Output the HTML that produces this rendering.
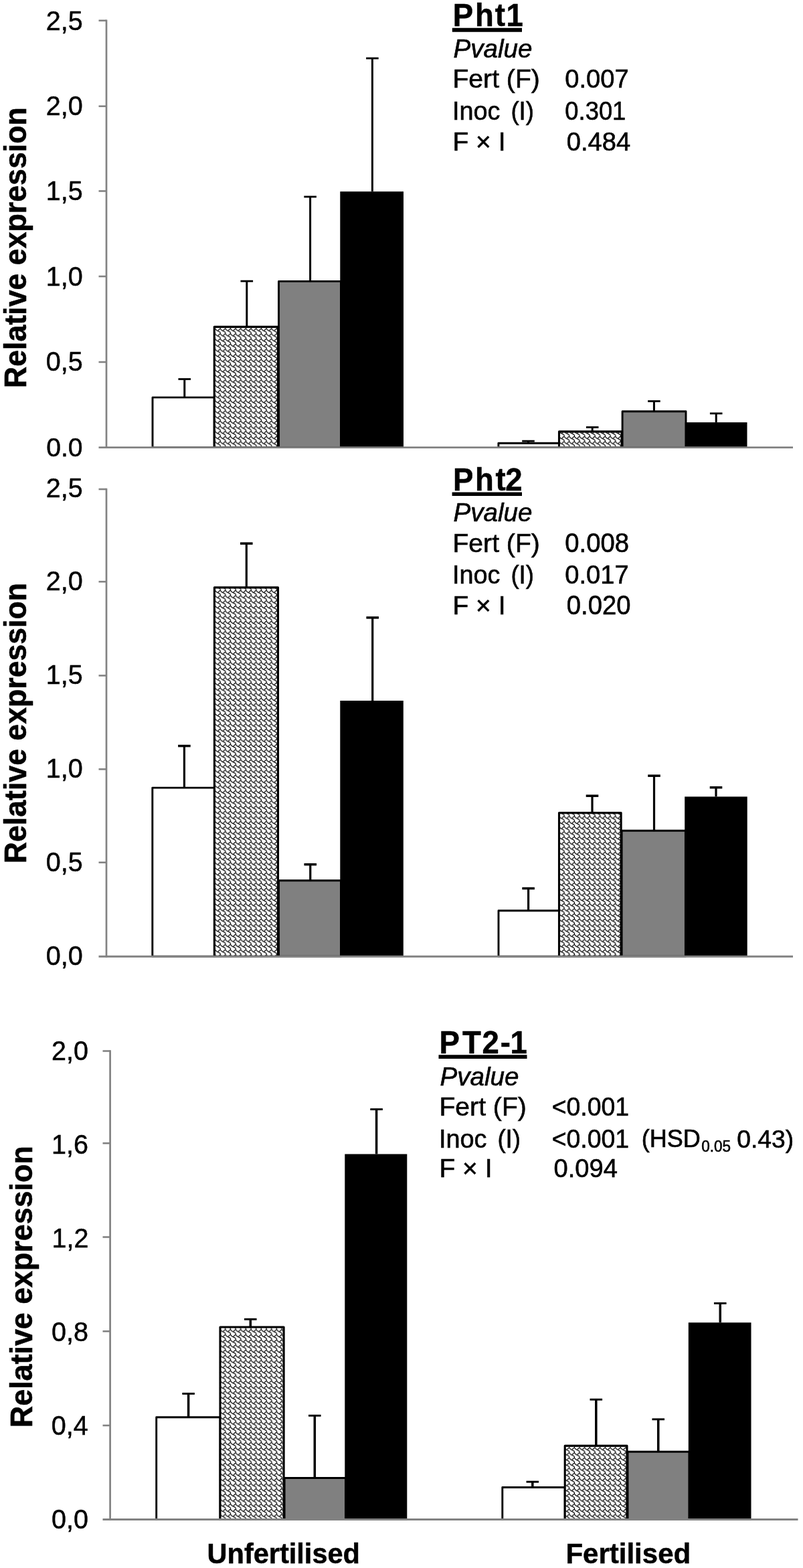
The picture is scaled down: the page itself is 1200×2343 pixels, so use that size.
<!DOCTYPE html>
<html lang="en"><head><meta charset="utf-8"><title>Relative expression of Pht1, Pht2 and PT2-1</title>
<style>html,body{margin:0;padding:0;background:#fff}svg{display:block}text{font-family:"Liberation Sans",Arial,Helvetica,sans-serif;fill:#000;font-kerning:none}</style></head><body>
<svg width="1200" height="2343" viewBox="0 0 1200 2343">
<defs><pattern id="shingle" width="8" height="8" patternUnits="userSpaceOnUse" patternTransform="translate(322.1,490.9) scale(0.95875)">
<rect width="8" height="8" fill="#fff"/>
<g fill="none" stroke="#000" stroke-width="1.15" stroke-linejoin="round" stroke-linecap="round">
<path transform="translate(-8,-8)" d="M0.5,1.5 L2.5,3.5 L3.5,3.5 L4.5,4.5 L5.5,4.5 L7.5,6.5 L7.5,8.5 L8.5,9.5 M3.5,3.5 L5.5,1.5 L6.5,0.5 L7.5,0.5"/>
<path transform="translate(-8,0)" d="M0.5,1.5 L2.5,3.5 L3.5,3.5 L4.5,4.5 L5.5,4.5 L7.5,6.5 L7.5,8.5 L8.5,9.5 M3.5,3.5 L5.5,1.5 L6.5,0.5 L7.5,0.5"/>
<path transform="translate(-8,8)" d="M0.5,1.5 L2.5,3.5 L3.5,3.5 L4.5,4.5 L5.5,4.5 L7.5,6.5 L7.5,8.5 L8.5,9.5 M3.5,3.5 L5.5,1.5 L6.5,0.5 L7.5,0.5"/>
<path transform="translate(0,-8)" d="M0.5,1.5 L2.5,3.5 L3.5,3.5 L4.5,4.5 L5.5,4.5 L7.5,6.5 L7.5,8.5 L8.5,9.5 M3.5,3.5 L5.5,1.5 L6.5,0.5 L7.5,0.5"/>
<path transform="translate(0,0)" d="M0.5,1.5 L2.5,3.5 L3.5,3.5 L4.5,4.5 L5.5,4.5 L7.5,6.5 L7.5,8.5 L8.5,9.5 M3.5,3.5 L5.5,1.5 L6.5,0.5 L7.5,0.5"/>
<path transform="translate(0,8)" d="M0.5,1.5 L2.5,3.5 L3.5,3.5 L4.5,4.5 L5.5,4.5 L7.5,6.5 L7.5,8.5 L8.5,9.5 M3.5,3.5 L5.5,1.5 L6.5,0.5 L7.5,0.5"/>
<path transform="translate(8,-8)" d="M0.5,1.5 L2.5,3.5 L3.5,3.5 L4.5,4.5 L5.5,4.5 L7.5,6.5 L7.5,8.5 L8.5,9.5 M3.5,3.5 L5.5,1.5 L6.5,0.5 L7.5,0.5"/>
<path transform="translate(8,0)" d="M0.5,1.5 L2.5,3.5 L3.5,3.5 L4.5,4.5 L5.5,4.5 L7.5,6.5 L7.5,8.5 L8.5,9.5 M3.5,3.5 L5.5,1.5 L6.5,0.5 L7.5,0.5"/>
<path transform="translate(8,8)" d="M0.5,1.5 L2.5,3.5 L3.5,3.5 L4.5,4.5 L5.5,4.5 L7.5,6.5 L7.5,8.5 L8.5,9.5 M3.5,3.5 L5.5,1.5 L6.5,0.5 L7.5,0.5"/>
</g></pattern></defs>
<rect width="1200" height="2343" fill="#fff"/>
<rect x="228.00" y="593.90" width="92.25" height="74.70" fill="#fff" stroke="#000" stroke-width="2.9" stroke-linejoin="round"/>
<rect x="416.50" y="420.40" width="93.00" height="248.20" fill="#808080" stroke="#000" stroke-width="2.9" stroke-linejoin="round"/>
<rect x="508.30" y="286.20" width="94.70" height="382.40" fill="#000"/>
<rect x="320.25" y="488.40" width="95.25" height="180.20" fill="url(#shingle)" stroke="#000" stroke-width="3.1" stroke-linejoin="round"/>
<line x1="275.75" y1="593.90" x2="275.75" y2="566.50" stroke="#000" stroke-width="3.0" stroke-linecap="butt"/>
<line x1="266.45" y1="566.50" x2="285.05" y2="566.50" stroke="#000" stroke-width="2.8" stroke-linecap="butt"/>
<line x1="368.80" y1="488.40" x2="368.80" y2="420.10" stroke="#000" stroke-width="3.0" stroke-linecap="butt"/>
<line x1="359.50" y1="420.10" x2="378.10" y2="420.10" stroke="#000" stroke-width="2.8" stroke-linecap="butt"/>
<line x1="463.60" y1="420.40" x2="463.60" y2="294.00" stroke="#000" stroke-width="3.0" stroke-linecap="butt"/>
<line x1="454.30" y1="294.00" x2="472.90" y2="294.00" stroke="#000" stroke-width="2.8" stroke-linecap="butt"/>
<line x1="556.40" y1="286.20" x2="556.40" y2="87.10" stroke="#000" stroke-width="3.0" stroke-linecap="butt"/>
<line x1="547.10" y1="87.10" x2="565.70" y2="87.10" stroke="#000" stroke-width="2.8" stroke-linecap="butt"/>
<rect x="744.90" y="662.25" width="90.60" height="6.35" fill="#fff" stroke="#000" stroke-width="2.9" stroke-linejoin="round"/>
<rect x="930.10" y="614.70" width="94.90" height="53.90" fill="#808080" stroke="#000" stroke-width="2.9" stroke-linejoin="round"/>
<rect x="1023.80" y="631.10" width="92.70" height="37.50" fill="#000"/>
<rect x="835.50" y="644.90" width="93.60" height="23.70" fill="url(#shingle)" stroke="#000" stroke-width="3.1" stroke-linejoin="round"/>
<line x1="789.50" y1="662.25" x2="789.50" y2="659.10" stroke="#000" stroke-width="3.0" stroke-linecap="butt"/>
<line x1="780.20" y1="659.10" x2="798.80" y2="659.10" stroke="#000" stroke-width="2.8" stroke-linecap="butt"/>
<line x1="885.20" y1="644.90" x2="885.20" y2="638.45" stroke="#000" stroke-width="3.0" stroke-linecap="butt"/>
<line x1="875.90" y1="638.45" x2="894.50" y2="638.45" stroke="#000" stroke-width="2.8" stroke-linecap="butt"/>
<line x1="977.40" y1="614.70" x2="977.40" y2="599.50" stroke="#000" stroke-width="3.0" stroke-linecap="butt"/>
<line x1="968.10" y1="599.50" x2="986.70" y2="599.50" stroke="#000" stroke-width="2.8" stroke-linecap="butt"/>
<line x1="1070.20" y1="631.10" x2="1070.20" y2="617.80" stroke="#000" stroke-width="3.0" stroke-linecap="butt"/>
<line x1="1060.90" y1="617.80" x2="1079.50" y2="617.80" stroke="#000" stroke-width="2.8" stroke-linecap="butt"/>
<rect x="159.00" y="669.85" width="1026.00" height="4" fill="#fff"/>
<line x1="159.00" y1="29.45" x2="159.00" y2="670.00" stroke="#828282" stroke-width="2.7" stroke-linecap="butt"/>
<line x1="147.50" y1="668.60" x2="1185.00" y2="668.60" stroke="#828282" stroke-width="2.9" stroke-linecap="butt"/>
<line x1="147.50" y1="30.75" x2="159.00" y2="30.75" stroke="#828282" stroke-width="2.6" stroke-linecap="butt"/>
<line x1="147.50" y1="158.75" x2="159.00" y2="158.75" stroke="#828282" stroke-width="2.6" stroke-linecap="butt"/>
<line x1="147.50" y1="285.50" x2="159.00" y2="285.50" stroke="#828282" stroke-width="2.6" stroke-linecap="butt"/>
<line x1="147.50" y1="413.00" x2="159.00" y2="413.00" stroke="#828282" stroke-width="2.6" stroke-linecap="butt"/>
<line x1="147.50" y1="541.00" x2="159.00" y2="541.00" stroke="#828282" stroke-width="2.6" stroke-linecap="butt"/>
<text transform="translate(68.82,44.50) scale(0.9582,1)" font-size="41.27" stroke="#000" stroke-width="0.5">2,5</text>
<text transform="translate(68.82,171.88) scale(0.9582,1)" font-size="41.27" stroke="#000" stroke-width="0.5">2,0</text>
<text transform="translate(68.82,299.26) scale(0.9582,1)" font-size="41.27" stroke="#000" stroke-width="0.5">1,5</text>
<text transform="translate(68.82,426.64) scale(0.9582,1)" font-size="41.27" stroke="#000" stroke-width="0.5">1,0</text>
<text transform="translate(68.82,554.02) scale(0.9582,1)" font-size="41.27" stroke="#000" stroke-width="0.5">0,5</text>
<text transform="translate(69.19,681.60) scale(0.9875,1)" font-size="39.58" stroke="#000" stroke-width="0.5">0.0</text>
<text transform="translate(38.90,580.03) rotate(-90) scale(0.9623,1)" font-size="46.45" font-weight="bold" stroke="#000" stroke-width="0.6">Relative expression</text>
<rect x="227.80" y="1177.10" width="92.60" height="252.10" fill="#fff" stroke="#000" stroke-width="2.9" stroke-linejoin="round"/>
<rect x="416.50" y="1315.80" width="93.00" height="113.40" fill="#808080" stroke="#000" stroke-width="2.9" stroke-linejoin="round"/>
<rect x="508.30" y="1047.00" width="94.50" height="382.20" fill="#000"/>
<rect x="320.40" y="877.90" width="95.10" height="551.30" fill="url(#shingle)" stroke="#000" stroke-width="3.1" stroke-linejoin="round"/>
<line x1="275.40" y1="1177.10" x2="275.40" y2="1114.60" stroke="#000" stroke-width="3.2" stroke-linecap="butt"/>
<line x1="266.10" y1="1114.60" x2="284.70" y2="1114.60" stroke="#000" stroke-width="3.5" stroke-linecap="butt"/>
<line x1="368.30" y1="877.90" x2="368.30" y2="812.10" stroke="#000" stroke-width="3.2" stroke-linecap="butt"/>
<line x1="359.00" y1="812.10" x2="377.60" y2="812.10" stroke="#000" stroke-width="3.5" stroke-linecap="butt"/>
<line x1="463.75" y1="1315.80" x2="463.75" y2="1291.70" stroke="#000" stroke-width="3.2" stroke-linecap="butt"/>
<line x1="454.45" y1="1291.70" x2="473.05" y2="1291.70" stroke="#000" stroke-width="3.5" stroke-linecap="butt"/>
<line x1="556.70" y1="1047.00" x2="556.70" y2="922.90" stroke="#000" stroke-width="3.2" stroke-linecap="butt"/>
<line x1="547.40" y1="922.90" x2="566.00" y2="922.90" stroke="#000" stroke-width="3.5" stroke-linecap="butt"/>
<rect x="745.00" y="1360.80" width="90.50" height="68.40" fill="#fff" stroke="#000" stroke-width="2.9" stroke-linejoin="round"/>
<rect x="929.10" y="1241.25" width="95.30" height="187.95" fill="#808080" stroke="#000" stroke-width="2.9" stroke-linejoin="round"/>
<rect x="1023.20" y="1190.40" width="93.50" height="238.80" fill="#000"/>
<rect x="835.50" y="1214.60" width="92.60" height="214.60" fill="url(#shingle)" stroke="#000" stroke-width="3.1" stroke-linejoin="round"/>
<line x1="789.60" y1="1360.80" x2="789.60" y2="1327.50" stroke="#000" stroke-width="3.2" stroke-linecap="butt"/>
<line x1="780.30" y1="1327.50" x2="798.90" y2="1327.50" stroke="#000" stroke-width="3.5" stroke-linecap="butt"/>
<line x1="885.00" y1="1214.60" x2="885.00" y2="1189.20" stroke="#000" stroke-width="3.2" stroke-linecap="butt"/>
<line x1="875.70" y1="1189.20" x2="894.30" y2="1189.20" stroke="#000" stroke-width="3.5" stroke-linecap="butt"/>
<line x1="977.50" y1="1241.25" x2="977.50" y2="1159.20" stroke="#000" stroke-width="3.2" stroke-linecap="butt"/>
<line x1="968.20" y1="1159.20" x2="986.80" y2="1159.20" stroke="#000" stroke-width="3.5" stroke-linecap="butt"/>
<line x1="1070.00" y1="1190.40" x2="1070.00" y2="1176.70" stroke="#000" stroke-width="3.2" stroke-linecap="butt"/>
<line x1="1060.70" y1="1176.70" x2="1079.30" y2="1176.70" stroke="#000" stroke-width="3.5" stroke-linecap="butt"/>
<rect x="159.00" y="1430.45" width="1026.00" height="4" fill="#fff"/>
<line x1="159.00" y1="729.70" x2="159.00" y2="1430.60" stroke="#828282" stroke-width="2.7" stroke-linecap="butt"/>
<line x1="147.50" y1="1429.20" x2="1185.00" y2="1429.20" stroke="#828282" stroke-width="2.9" stroke-linecap="butt"/>
<line x1="147.50" y1="731.00" x2="159.00" y2="731.00" stroke="#828282" stroke-width="2.6" stroke-linecap="butt"/>
<line x1="147.50" y1="869.20" x2="159.00" y2="869.20" stroke="#828282" stroke-width="2.6" stroke-linecap="butt"/>
<line x1="147.50" y1="1009.50" x2="159.00" y2="1009.50" stroke="#828282" stroke-width="2.6" stroke-linecap="butt"/>
<line x1="147.50" y1="1149.40" x2="159.00" y2="1149.40" stroke="#828282" stroke-width="2.6" stroke-linecap="butt"/>
<line x1="147.50" y1="1288.75" x2="159.00" y2="1288.75" stroke="#828282" stroke-width="2.6" stroke-linecap="butt"/>
<text transform="translate(68.82,742.50) scale(0.9748,1)" font-size="40.56" stroke="#000" stroke-width="0.5">2,5</text>
<text transform="translate(68.82,882.48) scale(0.9748,1)" font-size="40.56" stroke="#000" stroke-width="0.5">2,0</text>
<text transform="translate(68.82,1022.46) scale(0.9748,1)" font-size="40.56" stroke="#000" stroke-width="0.5">1,5</text>
<text transform="translate(68.82,1162.44) scale(0.9748,1)" font-size="40.56" stroke="#000" stroke-width="0.5">1,0</text>
<text transform="translate(68.82,1302.42) scale(0.9748,1)" font-size="40.56" stroke="#000" stroke-width="0.5">0,5</text>
<text transform="translate(68.82,1442.40) scale(0.9748,1)" font-size="40.56" stroke="#000" stroke-width="0.5">0,0</text>
<text transform="translate(39.00,1290.23) rotate(-90) scale(0.9611,1)" font-size="46.45" font-weight="bold" stroke="#000" stroke-width="0.6">Relative expression</text>
<rect x="233.70" y="2117.80" width="95.30" height="152.70" fill="#fff" stroke="#000" stroke-width="2.9" stroke-linejoin="round"/>
<rect x="425.10" y="2208.50" width="91.40" height="62.00" fill="#808080" stroke="#000" stroke-width="2.9" stroke-linejoin="round"/>
<rect x="515.30" y="1724.50" width="93.00" height="546.00" fill="#000"/>
<rect x="329.00" y="1983.00" width="95.10" height="287.50" fill="url(#shingle)" stroke="#000" stroke-width="3.1" stroke-linejoin="round"/>
<line x1="281.60" y1="2117.80" x2="281.60" y2="2082.50" stroke="#000" stroke-width="3.5" stroke-linecap="butt"/>
<line x1="272.30" y1="2082.50" x2="290.90" y2="2082.50" stroke="#000" stroke-width="2.9" stroke-linecap="butt"/>
<line x1="374.30" y1="1983.00" x2="374.30" y2="1971.30" stroke="#000" stroke-width="3.5" stroke-linecap="butt"/>
<line x1="365.00" y1="1971.30" x2="383.60" y2="1971.30" stroke="#000" stroke-width="2.9" stroke-linecap="butt"/>
<line x1="470.30" y1="2208.50" x2="470.30" y2="2115.30" stroke="#000" stroke-width="3.5" stroke-linecap="butt"/>
<line x1="461.00" y1="2115.30" x2="479.60" y2="2115.30" stroke="#000" stroke-width="2.9" stroke-linecap="butt"/>
<line x1="562.60" y1="1724.50" x2="562.60" y2="1657.60" stroke="#000" stroke-width="3.5" stroke-linecap="butt"/>
<line x1="553.30" y1="1657.60" x2="571.90" y2="1657.60" stroke="#000" stroke-width="2.9" stroke-linecap="butt"/>
<rect x="750.80" y="2222.50" width="93.40" height="48.00" fill="#fff" stroke="#000" stroke-width="2.9" stroke-linejoin="round"/>
<rect x="938.00" y="2169.20" width="92.00" height="101.30" fill="#808080" stroke="#000" stroke-width="2.9" stroke-linejoin="round"/>
<rect x="1028.80" y="1976.25" width="93.70" height="294.25" fill="#000"/>
<rect x="844.20" y="2160.40" width="92.80" height="110.10" fill="url(#shingle)" stroke="#000" stroke-width="3.1" stroke-linejoin="round"/>
<line x1="795.80" y1="2222.50" x2="795.80" y2="2214.20" stroke="#000" stroke-width="3.5" stroke-linecap="butt"/>
<line x1="786.50" y1="2214.20" x2="805.10" y2="2214.20" stroke="#000" stroke-width="2.9" stroke-linecap="butt"/>
<line x1="890.80" y1="2160.40" x2="890.80" y2="2091.25" stroke="#000" stroke-width="3.5" stroke-linecap="butt"/>
<line x1="881.50" y1="2091.25" x2="900.10" y2="2091.25" stroke="#000" stroke-width="2.9" stroke-linecap="butt"/>
<line x1="983.75" y1="2169.20" x2="983.75" y2="2120.80" stroke="#000" stroke-width="3.5" stroke-linecap="butt"/>
<line x1="974.45" y1="2120.80" x2="993.05" y2="2120.80" stroke="#000" stroke-width="2.9" stroke-linecap="butt"/>
<line x1="1076.25" y1="1976.25" x2="1076.25" y2="1947.50" stroke="#000" stroke-width="3.5" stroke-linecap="butt"/>
<line x1="1066.95" y1="1947.50" x2="1085.55" y2="1947.50" stroke="#000" stroke-width="2.9" stroke-linecap="butt"/>
<rect x="164.60" y="2271.75" width="1027.90" height="4" fill="#fff"/>
<line x1="164.60" y1="1569.20" x2="164.60" y2="2271.90" stroke="#828282" stroke-width="2.7" stroke-linecap="butt"/>
<line x1="153.50" y1="2270.50" x2="1192.50" y2="2270.50" stroke="#828282" stroke-width="2.9" stroke-linecap="butt"/>
<line x1="153.50" y1="1570.50" x2="164.60" y2="1570.50" stroke="#828282" stroke-width="2.6" stroke-linecap="butt"/>
<line x1="153.50" y1="1708.30" x2="164.60" y2="1708.30" stroke="#828282" stroke-width="2.6" stroke-linecap="butt"/>
<line x1="153.50" y1="1848.50" x2="164.60" y2="1848.50" stroke="#828282" stroke-width="2.6" stroke-linecap="butt"/>
<line x1="153.50" y1="1989.30" x2="164.60" y2="1989.30" stroke="#828282" stroke-width="2.6" stroke-linecap="butt"/>
<line x1="153.50" y1="2130.00" x2="164.60" y2="2130.00" stroke="#828282" stroke-width="2.6" stroke-linecap="butt"/>
<text transform="translate(77.12,1584.00) scale(0.9714,1)" font-size="40.70" stroke="#000" stroke-width="0.5">2,0</text>
<text transform="translate(77.12,1724.00) scale(0.9714,1)" font-size="40.70" stroke="#000" stroke-width="0.5">1,6</text>
<text transform="translate(77.51,1864.00) scale(0.9714,1)" font-size="40.70" stroke="#000" stroke-width="0.5">1,2</text>
<text transform="translate(77.12,2004.00) scale(0.9714,1)" font-size="40.70" stroke="#000" stroke-width="0.5">0,8</text>
<text transform="translate(76.72,2144.00) scale(0.9714,1)" font-size="40.70" stroke="#000" stroke-width="0.5">0,4</text>
<text transform="translate(77.12,2284.00) scale(0.9714,1)" font-size="40.70" stroke="#000" stroke-width="0.5">0,0</text>
<text transform="translate(48.00,2133.14) rotate(-90) scale(0.9664,1)" font-size="46.38" font-weight="bold" stroke="#000" stroke-width="0.6">Relative expression</text>
<text transform="translate(0,39.20) scale(0.9500,1)" x="712.48 747.43 778.73 796.40" font-size="47.97" font-weight="bold" stroke="#000" stroke-width="0.5">Pht1</text>
<line x1="675.80" y1="44.80" x2="780.00" y2="44.80" stroke="#000" stroke-width="6" stroke-linecap="butt"/>
<text transform="translate(677.44,86.30) scale(0.9974,1)" font-size="38.70" font-style="italic" stroke="#000" stroke-width="0.6">Pvalue</text>
<text transform="translate(676.47,131.30) scale(0.9852,1)" font-size="39.71" stroke="#000" stroke-width="0.6">Fert (F)</text>
<text transform="translate(675.99,179.20) scale(0.9532,1)" font-size="39.71" stroke="#000" stroke-width="0.6">Inoc</text>
<text transform="translate(763.40,179.20) scale(0.9244,1)" font-size="39.71" stroke="#000" stroke-width="0.6">(I)</text>
<text transform="translate(676.48,224.85) scale(0.9816,1)" font-size="39.71" stroke="#000" stroke-width="0.6">F × I</text>
<text transform="translate(844.27,131.30) scale(0.9603,1)" font-size="39.71" stroke="#000" stroke-width="0.6">0.007</text>
<text transform="translate(844.35,179.20) scale(0.9159,1)" font-size="39.71" stroke="#000" stroke-width="0.6">0.301</text>
<text transform="translate(846.77,224.85) scale(0.9601,1)" font-size="39.71" stroke="#000" stroke-width="0.6">0.484</text>
<text transform="translate(0,733.00) scale(0.9500,1)" x="712.69 747.33 779.47 795.03" font-size="47.97" font-weight="bold" stroke="#000" stroke-width="0.5">Pht2</text>
<line x1="675.60" y1="738.20" x2="780.00" y2="738.20" stroke="#000" stroke-width="5.6" stroke-linecap="butt"/>
<text transform="translate(677.44,778.90) scale(0.9974,1)" font-size="38.70" font-style="italic" stroke="#000" stroke-width="0.6">Pvalue</text>
<text transform="translate(676.47,825.00) scale(0.9852,1)" font-size="39.71" stroke="#000" stroke-width="0.6">Fert (F)</text>
<text transform="translate(675.99,872.20) scale(0.9532,1)" font-size="39.71" stroke="#000" stroke-width="0.6">Inoc</text>
<text transform="translate(763.40,872.20) scale(0.9244,1)" font-size="39.71" stroke="#000" stroke-width="0.6">(I)</text>
<text transform="translate(676.48,918.00) scale(0.9816,1)" font-size="39.71" stroke="#000" stroke-width="0.6">F × I</text>
<text transform="translate(844.27,825.00) scale(0.9641,1)" font-size="39.71" stroke="#000" stroke-width="0.6">0.008</text>
<text transform="translate(844.27,872.20) scale(0.9603,1)" font-size="39.71" stroke="#000" stroke-width="0.6">0.017</text>
<text transform="translate(846.77,918.00) scale(0.9641,1)" font-size="39.71" stroke="#000" stroke-width="0.6">0.020</text>
<text transform="translate(0,1574.25) scale(0.9500,1)" x="691.01 727.42 758.30 787.19 802.71" font-size="47.97" font-weight="bold" stroke="#000" stroke-width="0.5">PT2-1</text>
<line x1="655.50" y1="1579.10" x2="787.50" y2="1579.10" stroke="#000" stroke-width="5.7" stroke-linecap="butt"/>
<text transform="translate(657.44,1622.00) scale(0.9974,1)" font-size="38.70" font-style="italic" stroke="#000" stroke-width="0.6">Pvalue</text>
<text transform="translate(656.47,1667.00) scale(0.9852,1)" font-size="39.71" stroke="#000" stroke-width="0.6">Fert (F)</text>
<text transform="translate(655.99,1714.50) scale(0.9532,1)" font-size="39.71" stroke="#000" stroke-width="0.6">Inoc</text>
<text transform="translate(743.40,1714.50) scale(0.9244,1)" font-size="39.71" stroke="#000" stroke-width="0.6">(I)</text>
<text transform="translate(656.48,1758.75) scale(0.9816,1)" font-size="39.71" stroke="#000" stroke-width="0.6">F × I</text>
<text transform="translate(824.68,1667.00) scale(0.9424,1)" font-size="39.71" stroke="#000" stroke-width="0.6">&lt;0.001</text>
<text transform="translate(824.68,1714.50) scale(0.9424,1)" font-size="39.71" stroke="#000" stroke-width="0.6">&lt;0.001</text>
<text transform="translate(827.52,1758.75) scale(0.9601,1)" font-size="39.71" stroke="#000" stroke-width="0.6">0.094</text>
<text transform="translate(958.74,1714.40) scale(0.9955,1)" font-size="36.23" stroke="#000" stroke-width="0.6">(HSD</text>
<text transform="translate(1048.15,1720.80) scale(0.9635,1)" font-size="23.38" stroke="#000" stroke-width="0.6">0.05</text>
<text transform="translate(1101.21,1714.60) scale(1.0280,1)" font-size="36.23" stroke="#000" stroke-width="0.6">0.43)</text>
<text transform="translate(309.56,2335.90) scale(0.9680,1)" font-size="42.90" font-weight="bold" stroke="#000" stroke-width="0.5">Unfertilised</text>
<text transform="translate(845.41,2335.90) scale(0.9795,1)" font-size="42.90" font-weight="bold" stroke="#000" stroke-width="0.5">Fertilised</text>
</svg></body></html>
